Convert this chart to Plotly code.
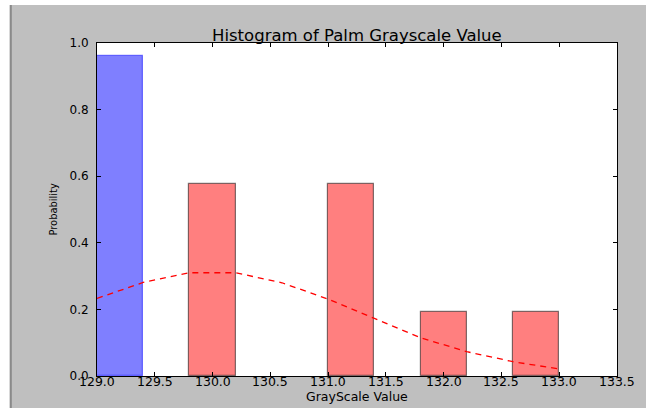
import plotly.graph_objects as go

# Histogram of palm grayscale values (normalised to a probability density)
bin_edges = [129.0, 129.4, 129.8, 130.2, 130.6, 131.0, 131.4, 131.8, 132.2, 132.6, 133.0]
density = [0.962, 0.0, 0.577, 0.0, 0.0, 0.577, 0.0, 0.192, 0.0, 0.192]
# Fitted normal curve evaluated at the bin edges
fit_curve = [0.233, 0.281, 0.310, 0.310, 0.280, 0.231, 0.173, 0.115, 0.073, 0.043, 0.021]

x_ticks = [129.0, 129.5, 130.0, 130.5, 131.0, 131.5, 132.0, 132.5, 133.0, 133.5]
y_ticks = [0.0, 0.2, 0.4, 0.6, 0.8, 1.0]

W, H = 646, 408
L, R, T, B = 97, 29, 43, 32
PW, PH = W - L - R, H - T - B


def px_x(px):
    return (px - L) / PW


def px_y(py):
    return (H - B - py) / PH


# only non-empty bins produce a visible patch
bins = [(left, d, i) for i, (left, d) in enumerate(zip(bin_edges[:-1], density)) if d > 0]
bar_x = [b[0] for b in bins]
bar_y = [b[1] for b in bins]
face = ["rgba(0,0,255,0.5)" if b[2] == 0 else "rgba(255,0,0,0.5)" for b in bins]
edge = ["rgba(0,0,255,0.5)" if b[2] == 0 else "rgba(0,0,0,0.5)" for b in bins]

fig = go.Figure()
fig.add_trace(go.Bar(
    x=bar_x, y=bar_y, width=0.4, offset=0,
    marker=dict(color=face, line=dict(color=edge, width=1.2)),
    hoverinfo="skip", showlegend=False,
))
fig.add_trace(go.Scatter(
    x=bin_edges, y=fit_curve, mode="lines",
    line=dict(color="red", width=1.3, dash="6px,5px"),
    hoverinfo="skip", showlegend=False,
))

font = "DejaVu Sans, Liberation Sans, sans-serif"
axis_common = dict(
    showline=True, linecolor="black", linewidth=1, mirror="ticks",
    ticks="inside", ticklen=4, tickwidth=1, tickcolor="black",
    showgrid=False, zeroline=False, tickformat=".1f",
    tickfont=dict(family=font, size=12, color="black"),
)

# x tick labels are placed as annotations so they sit tight under the axis
x_tick_labels = [
    dict(text=f"{v:.1f}", xref="x", yref="paper", x=v, y=px_y(381.5),
         xanchor="center", yanchor="middle", showarrow=False,
         font=dict(family=font, size=12.5, color="black"))
    for v in x_ticks
]

fig.update_layout(
    width=W, height=H,
    margin=dict(l=L, r=R, t=T, b=B, pad=0),
    paper_bgcolor="#bfbfbf", plot_bgcolor="white",
    bargap=0,
    xaxis=dict(range=[129.0, 133.5], tickvals=x_ticks, showticklabels=False, **axis_common),
    yaxis=dict(range=[0.0, 1.0], tickvals=y_ticks, ticklabelstandoff=5, **axis_common),
    shapes=[
        # window edge: white strips on top/left and a darker border line
        dict(type="rect", xref="paper", yref="paper", layer="below",
             x0=px_x(-5), x1=px_x(W + 5), y0=px_y(5), y1=px_y(-5),
             fillcolor="white", line=dict(width=0)),
        dict(type="rect", xref="paper", yref="paper", layer="below",
             x0=px_x(-5), x1=px_x(9.7), y0=px_y(H + 5), y1=px_y(-5),
             fillcolor="white", line=dict(width=0)),
        dict(type="line", xref="paper", yref="paper", layer="below",
             x0=px_x(10.8), x1=px_x(10.8), y0=px_y(5), y1=px_y(H + 5),
             line=dict(color="#8a8a8a", width=2)),
    ],
    annotations=x_tick_labels + [
        dict(text="Histogram of Palm Grayscale Value", xref="paper", yref="paper",
             x=0.5, y=px_y(35), xanchor="center", yanchor="middle", showarrow=False,
             font=dict(family=font, size=16.5, color="black")),
        dict(text="GrayScale Value", xref="paper", yref="paper",
             x=0.5, y=px_y(396), xanchor="center", yanchor="middle", showarrow=False,
             font=dict(family=font, size=12.5, color="black")),
        dict(text="Probability", xref="paper", yref="paper",
             x=px_x(53), y=0.5, xanchor="center", yanchor="middle", showarrow=False,
             textangle=-90,
             font=dict(family="Liberation Sans Narrow, DejaVu Sans Condensed, DejaVu Sans",
                       size=11, color="black")),
    ],
)

fig.write_html("out.html")
